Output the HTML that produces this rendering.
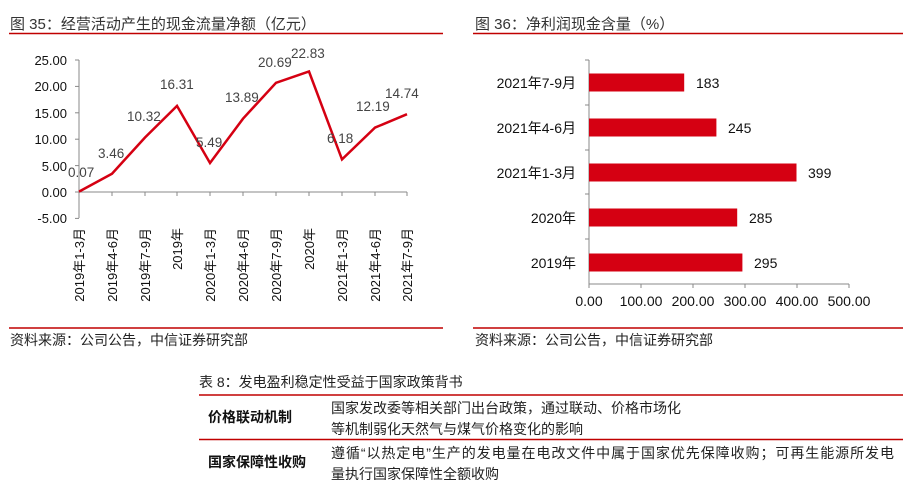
<!DOCTYPE html>
<html><head><meta charset="utf-8"><style>
body{margin:0;width:913px;height:480px;background:#fff;overflow:hidden;font-family:"Liberation Sans","Noto Sans CJK SC",sans-serif;}
svg{position:absolute;left:0;top:0}
</style></head><body>
<svg width="913" height="480" font-family="Liberation Sans, Noto Sans CJK SC, sans-serif">
<text x="10" y="29" font-size="15" fill="#333">图 35：经营活动产生的现金流量净额（亿元）</text>
<line x1="9" y1="33.5" x2="443" y2="33.5" stroke="#c00000" stroke-width="1.5"/>
<line x1="9" y1="328" x2="443" y2="328" stroke="#c00000" stroke-width="1.5"/>
<text x="10" y="345" font-size="14" fill="#222">资料来源：公司公告，中信证券研究部</text>
<text x="475" y="29" font-size="15" fill="#333">图 36：净利润现金含量（%）</text>
<line x1="473" y1="33.5" x2="903" y2="33.5" stroke="#c00000" stroke-width="1.5"/>
<line x1="473" y1="328" x2="903" y2="328" stroke="#c00000" stroke-width="1.5"/>
<text x="475" y="345" font-size="14" fill="#222">资料来源：公司公告，中信证券研究部</text>

<g stroke="#888" stroke-width="1">
<line x1="79" y1="60" x2="79" y2="218"/>
<line x1="75" y1="60" x2="79" y2="60"/><line x1="75" y1="86.4" x2="79" y2="86.4"/><line x1="75" y1="112.8" x2="79" y2="112.8"/><line x1="75" y1="139.2" x2="79" y2="139.2"/><line x1="75" y1="165.6" x2="79" y2="165.6"/><line x1="75" y1="192" x2="79" y2="192"/><line x1="75" y1="218.4" x2="79" y2="218.4"/>
<line x1="79" y1="192" x2="407" y2="192"/>
<line x1="112" y1="192" x2="112" y2="196"/><line x1="145" y1="192" x2="145" y2="196"/><line x1="177" y1="192" x2="177" y2="196"/><line x1="210" y1="192" x2="210" y2="196"/><line x1="243" y1="192" x2="243" y2="196"/><line x1="276" y1="192" x2="276" y2="196"/><line x1="309" y1="192" x2="309" y2="196"/><line x1="342" y1="192" x2="342" y2="196"/><line x1="375" y1="192" x2="375" y2="196"/><line x1="407" y1="192" x2="407" y2="196"/>
</g>
<g font-size="13" fill="#111" text-anchor="end">
<text x="67" y="65">25.00</text><text x="67" y="91">20.00</text><text x="67" y="118">15.00</text><text x="67" y="144">10.00</text><text x="67" y="171">5.00</text><text x="67" y="197">0.00</text><text x="67" y="223">-5.00</text>
</g>
<polyline fill="none" stroke="#d50012" stroke-width="2.5" points="79,191.6 112,173.7 145,137.5 177,105.9 210,163 243,118.7 276,82.8 309,71.5 342,159.4 375,127.6 407,114.2"/>
<g font-size="13.5" fill="#444">
<text x="68" y="177">0.07</text><text x="98" y="158">3.46</text><text x="127" y="121">10.32</text><text x="160" y="89">16.31</text><text x="196" y="147">5.49</text><text x="225" y="102">13.89</text><text x="258" y="67">20.69</text><text x="291" y="58">22.83</text><text x="327" y="143">6.18</text><text x="356" y="111">12.19</text><text x="385" y="98">14.74</text>
</g>
<g font-size="13" fill="#111" text-anchor="end">
<text transform="translate(84,228) rotate(-90)">2019年1-3月</text>
<text transform="translate(117,228) rotate(-90)">2019年4-6月</text>
<text transform="translate(150,228) rotate(-90)">2019年7-9月</text>
<text transform="translate(182,228) rotate(-90)">2019年</text>
<text transform="translate(215,228) rotate(-90)">2020年1-3月</text>
<text transform="translate(248,228) rotate(-90)">2020年4-6月</text>
<text transform="translate(281,228) rotate(-90)">2020年7-9月</text>
<text transform="translate(314,228) rotate(-90)">2020年</text>
<text transform="translate(347,228) rotate(-90)">2021年1-3月</text>
<text transform="translate(380,228) rotate(-90)">2021年4-6月</text>
<text transform="translate(412,228) rotate(-90)">2021年7-9月</text>
</g>

<g stroke="#888" stroke-width="1">
<line x1="589" y1="60" x2="589" y2="284"/>
<line x1="585" y1="60" x2="589" y2="60"/><line x1="585" y1="105" x2="589" y2="105"/><line x1="585" y1="150" x2="589" y2="150"/><line x1="585" y1="194" x2="589" y2="194"/><line x1="585" y1="239" x2="589" y2="239"/>
<line x1="589" y1="284" x2="849" y2="284"/>
<line x1="589" y1="284" x2="589" y2="288"/><line x1="641" y1="284" x2="641" y2="288"/><line x1="693" y1="284" x2="693" y2="288"/><line x1="745" y1="284" x2="745" y2="288"/><line x1="797" y1="284" x2="797" y2="288"/><line x1="849" y1="284" x2="849" y2="288"/>
</g>
<g fill="#d50012">
<rect x="589" y="73.5" width="95.2" height="18"/>
<rect x="589" y="118.5" width="127.4" height="18"/>
<rect x="589" y="163.5" width="207.5" height="18"/>
<rect x="589" y="208.5" width="148.2" height="18"/>
<rect x="589" y="253.5" width="153.4" height="18"/>
</g>
<g font-size="14" fill="#111">
<text x="696" y="88">183</text><text x="728" y="133">245</text><text x="808" y="178">399</text><text x="749" y="223">285</text><text x="754" y="268">295</text>
</g>
<g font-size="14" fill="#111" text-anchor="end">
<text x="576" y="88">2021年7-9月</text><text x="576" y="133">2021年4-6月</text><text x="576" y="178">2021年1-3月</text><text x="576" y="223">2020年</text><text x="576" y="268">2019年</text>
</g>
<g font-size="14" fill="#111" text-anchor="middle">
<text x="589" y="306">0.00</text><text x="641" y="306">100.00</text><text x="693" y="306">200.00</text><text x="745" y="306">300.00</text><text x="797" y="306">400.00</text><text x="849" y="306">500.00</text>
</g>

<text x="199" y="387" font-size="14" fill="#222">表 8：发电盈利稳定性受益于国家政策背书</text>
<line x1="199" y1="395" x2="903" y2="395" stroke="#c00000" stroke-width="1.5"/>
<line x1="199" y1="439.5" x2="903" y2="439.5" stroke="#c00000" stroke-width="1.5"/>
<text x="208" y="422" font-size="14" font-weight="bold" fill="#111">价格联动机制</text>
<text x="208" y="467" font-size="14" font-weight="bold" fill="#111">国家保障性收购</text>
<g font-size="14" fill="#222">
<text x="331" y="413">国家发改委等相关部门出台政策，通过联动、价格市场化</text>
<text x="331" y="434">等机制弱化天然气与煤气价格变化的影响</text>
<text x="331" y="458" textLength="563" lengthAdjust="spacing">遵循“以热定电”生产的发电量在电改文件中属于国家优先保障收购；可再生能源所发电</text>
<text x="331" y="479">量执行国家保障性全额收购</text>
</g>
</svg>
</body></html>
